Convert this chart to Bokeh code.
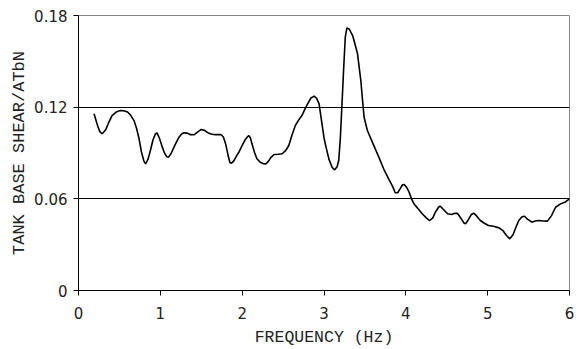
from bokeh.plotting import figure
from bokeh.models import FixedTicker, Range1d
from bokeh.embed import file_html
from bokeh.resources import INLINE

freq = [0.19, 0.23, 0.26, 0.29, 0.33, 0.37, 0.41, 0.46, 0.51, 0.55, 0.60, 0.64, 0.68, 0.71,
        0.74, 0.77, 0.80, 0.82, 0.85, 0.88, 0.91, 0.94, 0.96, 0.99, 1.02, 1.05, 1.08, 1.10,
        1.13, 1.16, 1.19, 1.23, 1.26, 1.29, 1.33, 1.37, 1.41, 1.45, 1.50, 1.54, 1.58, 1.62,
        1.67, 1.71, 1.74, 1.77, 1.80, 1.83, 1.85, 1.87, 1.90, 1.93, 1.96, 2.00, 2.04, 2.08,
        2.10, 2.12, 2.15, 2.18, 2.22, 2.26, 2.29, 2.32, 2.35, 2.39, 2.44, 2.49, 2.53, 2.57,
        2.61, 2.65, 2.69, 2.73, 2.77, 2.80, 2.84, 2.88, 2.91, 2.94, 2.97, 3.00, 3.02, 3.06,
        3.10, 3.13, 3.16, 3.18, 3.20, 3.22, 3.24, 3.26, 3.28, 3.31, 3.35, 3.38, 3.41, 3.43,
        3.45, 3.47, 3.49, 3.53, 3.60, 3.67, 3.73, 3.79, 3.84, 3.87, 3.90, 3.93, 3.96, 3.98,
        4.01, 4.04, 4.07, 4.10, 4.15, 4.20, 4.25, 4.29, 4.33, 4.36, 4.40, 4.42, 4.46, 4.51,
        4.56, 4.60, 4.63, 4.67, 4.71, 4.73, 4.76, 4.80, 4.83, 4.87, 4.91, 4.96, 5.01, 5.07,
        5.14, 5.19, 5.23, 5.27, 5.31, 5.35, 5.38, 5.42, 5.45, 5.49, 5.54, 5.58, 5.63, 5.68,
        5.73, 5.78, 5.83, 5.89, 5.95, 6.00]
shear = [0.1157, 0.1085, 0.1040, 0.1026, 0.1050, 0.1100, 0.1145, 0.1168, 0.1178, 0.1177,
         0.1168, 0.1145, 0.1110, 0.1060, 0.0993, 0.0905, 0.0845, 0.0829, 0.0860, 0.0920,
         0.0985, 0.1025, 0.1032, 0.0995, 0.0945, 0.0900, 0.0875, 0.0873, 0.0895, 0.0930,
         0.0965, 0.1005, 0.1025, 0.1032, 0.1030, 0.1020, 0.1019, 0.1035, 0.1054, 0.1048,
         0.1033, 0.1024, 0.1020, 0.1020, 0.1021, 0.1005, 0.0955, 0.0880, 0.0838, 0.0833,
         0.0850, 0.0880, 0.0905, 0.0950, 0.0990, 0.1015, 0.1000, 0.0960, 0.0905, 0.0862,
         0.0840, 0.0830, 0.0829, 0.0845, 0.0870, 0.0890, 0.0892, 0.0895, 0.0915, 0.0949,
         0.1020, 0.1080, 0.1115, 0.1145, 0.1190, 0.1222, 0.1260, 0.1272, 0.1258, 0.1222,
         0.1110, 0.1000, 0.0950, 0.0860, 0.0805, 0.0790, 0.0810, 0.0851, 0.1000, 0.1222,
         0.1450, 0.1658, 0.1719, 0.1710, 0.1669, 0.1610, 0.1549, 0.1460, 0.1375, 0.1250,
         0.1134, 0.1047, 0.0960, 0.0873, 0.0795, 0.0730, 0.0680, 0.0640, 0.0640, 0.0665,
         0.0692, 0.0694, 0.0675, 0.0643, 0.0600, 0.0567, 0.0535, 0.0502, 0.0475, 0.0458,
         0.0475, 0.0512, 0.0545, 0.0552, 0.0530, 0.0502, 0.0498, 0.0505, 0.0506, 0.0475,
         0.0442, 0.0437, 0.0460, 0.0497, 0.0506, 0.0485, 0.0458, 0.0440, 0.0425, 0.0420,
         0.0410, 0.0390, 0.0360, 0.0338, 0.0365, 0.0420, 0.0458, 0.0483, 0.0486, 0.0465,
         0.0447, 0.0455, 0.0458, 0.0455, 0.0454, 0.0490, 0.0545, 0.0567, 0.0580, 0.0600]

x_ticks = [0, 1, 2, 3, 4, 5, 6]
y_ticks = [0, 0.06, 0.12, 0.18]
y_tick_labels = ["0", "0.06", "0.12", "0.18"]

p = figure(width=575, height=349, output_backend="svg", toolbar_location=None,
           x_range=Range1d(0, 6), y_range=Range1d(0, 0.18),
           min_border_left=78, min_border_right=6, min_border_top=15, min_border_bottom=59)
p.background_fill_color = "white"
p.border_fill_color = "white"
p.outline_line_color = "#888888"
p.outline_line_width = 1

p.line(freq, shear, line_color="black", line_width=1.6)

p.xgrid.visible = False
p.ygrid.ticker = FixedTicker(ticks=[0.06, 0.12])
p.ygrid.grid_line_color = "black"
p.ygrid.grid_line_alpha = 1.0
p.ygrid.grid_line_width = 1

p.xaxis.ticker = FixedTicker(ticks=x_ticks)
p.yaxis.ticker = FixedTicker(ticks=y_ticks)
p.yaxis.major_label_overrides = {t: l for t, l in zip(y_ticks, y_tick_labels)}

for ax in (p.xaxis[0], p.yaxis[0]):
    ax.axis_line_color = "black"
    ax.axis_line_width = 1
    ax.major_tick_line_color = "black"
    ax.major_tick_in = 0
    ax.major_tick_out = 5
    ax.minor_tick_line_color = None
    ax.major_label_text_font = "DejaVu Sans"
    ax.major_label_text_font_size = "15px"
    ax.major_label_text_color = "#222222"
    ax.axis_label_text_font = "Liberation Mono"
    ax.axis_label_text_font_style = "normal"
    ax.axis_label_text_color = "#222222"

p.xaxis.axis_label = "FREQUENCY (Hz)"
p.yaxis.axis_label = "TANK BASE SHEAR/ATbN"
p.xaxis.axis_label_text_font_size = "16.5px"
p.yaxis.axis_label_text_font_size = "17px"
p.xaxis.major_label_standoff = 11
p.xaxis.axis_label_standoff = 6
p.yaxis.major_label_standoff = 6
p.yaxis.axis_label_standoff = 2

open("out.html", "w").write(file_html(p, INLINE))
